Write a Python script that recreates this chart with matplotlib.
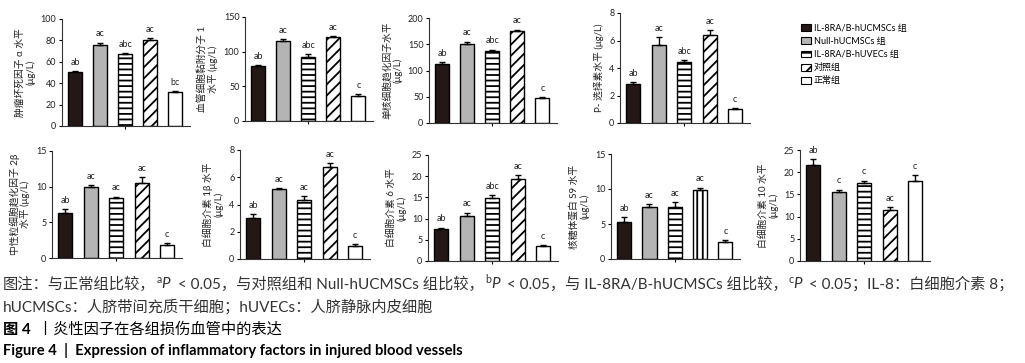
import matplotlib
matplotlib.use('Agg')
import matplotlib.pyplot as plt
from matplotlib.patches import Patch

plt.rcParams['font.family'] = ['Lato', 'Noto Sans CJK SC', 'DejaVu Sans']
plt.rcParams['mathtext.fontset'] = 'custom'
plt.rcParams['mathtext.rm'] = 'Lato'
plt.rcParams['mathtext.it'] = 'Lato:italic'
plt.rcParams['mathtext.bf'] = 'Lato:bold'
plt.rcParams['hatch.linewidth'] = 1.3
plt.rcParams['axes.unicode_minus'] = False

# groups (legend order)
groups = ['IL-8RA/B-hUCMSCs 组', 'Null-hUCMSCs 组', 'IL-8RA/B-hUVECs 组', '对照组', '正常组']
fills = ['#231815', '#b4b4b4', 'white', 'white', 'white']
hatches = [None, None, '---', '///', None]

# values (mean, upper error, significance letters)
tnf_mean = [50, 76, 67, 80, 32]
tnf_err = [1, 2, 1, 2, 1]
tnf_sig = ['ab', 'ac', 'abc', 'ac', 'bc']

vcam_mean = [79, 116, 93, 121, 36]
vcam_err = [2, 2, 3, 2, 3]
vcam_sig = ['ab', 'ac', 'abc', 'ac', 'c']

mcp_mean = [112, 151, 137, 175, 47]
mcp_err = [4, 4, 3, 3, 3]
mcp_sig = ['ab', 'ac', 'abc', 'ac', 'c']

psel_mean = [2.83, 5.7, 4.44, 6.4, 1.05]
psel_err = [0.15, 0.55, 0.15, 0.35, 0.05]
psel_sig = ['ab', 'ac', 'abc', 'ac', 'c']

cxcl_mean = [6.35, 9.9, 8.4, 10.5, 1.87]
cxcl_err = [0.5, 0.3, 0.2, 0.8, 0.2]
cxcl_sig = ['ab', 'ac', 'ac', 'ac', 'c']

il1b_mean = [3.03, 5.13, 4.33, 6.72, 0.98]
il1b_err = [0.25, 0.08, 0.3, 0.3, 0.1]
il1b_sig = ['ab', 'ac', 'ac', 'ac', 'c']

il6_mean = [7.5, 10.7, 14.9, 19.3, 3.5]
il6_err = [0.4, 0.7, 0.6, 0.9, 0.3]
il6_sig = ['ab', 'ac', 'abc', 'ac', 'c']

s9_mean = [5.33, 7.48, 7.48, 9.86, 2.48]
s9_err = [0.6, 0.35, 0.7, 0.35, 0.2]
s9_sig = ['ab', 'ac', 'ac', 'ac', 'c']

il10_mean = [21.6, 15.6, 17.6, 11.5, 18.0]
il10_err = [1.3, 0.5, 0.5, 0.6, 1.3]
il10_sig = ['ab', 'c', 'c', 'ac', 'c']

W, H = 1025, 363

# (mean, err, sig, ymax, ystep, ylabel, pixel box x0, x1, ytop, ybottom)
panels = [
    (tnf_mean, tnf_err, tnf_sig, 100, 20, '肿瘤坏死因子 α 水平\n(μg/L)', (62, 190, 19, 126)),
    (vcam_mean, vcam_err, vcam_sig, 150, 50, '血管细胞黏附分子 1\n水平 (μg/L)', (245, 373, 17, 121)),
    (mcp_mean, mcp_err, mcp_sig, 200, 50, '单核细胞趋化因子水平\n(μg/L)', (429, 557, 18, 123)),
    (psel_mean, psel_err, psel_sig, 8, 2, 'P- 选择素水平 (μg/L)', (620, 750, 13, 123)),
    (cxcl_mean, cxcl_err, cxcl_sig, 15, 5, '中性粒细胞趋化因子 2β\n水平 (μg/L)', (52, 182, 151, 258)),
    (il1b_mean, il1b_err, il1b_sig, 8, 2, '白细胞介素 1β 水平\n(μg/L)', (240, 370, 150, 259)),
    (il6_mean, il6_err, il6_sig, 25, 5, '白细胞介素 6 水平\n(μg/L)', (428, 558, 155, 261)),
    (s9_mean, s9_err, s9_sig, 15, 5, '核糖体蛋白 S9 水平\n(μg/L)', (611, 740, 154, 259)),
    (il10_mean, il10_err, il10_sig, 25, 5, '白细胞介素 10 水平\n(μg/L)', (800, 930, 150, 261)),
]

fig = plt.figure(figsize=(W / 100, H / 100), dpi=100)

for k, (mean, err, sig, ymax, ystep, ylabel, box) in enumerate(panels):
    x0, x1, yt, yb = box
    ax = fig.add_axes([x0 / W, 1 - yb / H, (x1 - x0) / W, (yb - yt) / H])
    xs = list(range(len(mean)))
    hs = list(hatches)
    if k == 7:
        hs[3] = '|||'  # this panel uses vertical stripes for the control group
    ax.bar(xs, mean, width=0.56, color=fills, edgecolor='black',
           linewidth=1.0, hatch=hs, zorder=2)
    ax.errorbar(xs, mean, yerr=[[0] * len(err), err], fmt='none',
                ecolor='black', elinewidth=1.0, capsize=2.5, capthick=1.0, zorder=3)
    for i in xs:
        ax.annotate(sig[i], (i, mean[i] + err[i]), xytext=(0, 3),
                    textcoords='offset points', ha='center', va='bottom',
                    fontsize=6.5, color='#222222')
    ax.set_xlim(-0.52, 4.58)
    ax.set_ylim(0, ymax)
    ax.set_yticks(list(range(0, ymax + 1, ystep)))
    ax.set_xticks([2])
    ax.tick_params(axis='x', length=2.5, width=0.8, labelbottom=False)
    ax.tick_params(axis='y', length=2.5, width=0.8, pad=1.5,
                   labelsize=6.5, labelcolor='#222222')
    for s in ['top', 'right']:
        ax.spines[s].set_visible(False)
    for s in ['left', 'bottom']:
        ax.spines[s].set_linewidth(0.8)
        ax.spines[s].set_color('#333333')
    ax.set_ylabel(ylabel, fontsize=7, labelpad=4, linespacing=1.1, color='#222222')

# legend
handles = [Patch(facecolor=fills[i], edgecolor='black', hatch=hatches[i], linewidth=0.8)
           for i in range(len(groups))]
fig.legend(handles, groups, loc='upper left', bbox_to_anchor=(801 / W, 1 - 24 / H),
           frameon=False, fontsize=6.5, handlelength=1.1, handleheight=0.8,
           handletextpad=0.3, labelspacing=0.45, borderpad=0, borderaxespad=0)

# caption: pieces written one after another on a common baseline
renderer = fig.canvas.get_renderer()


def write_run(pieces, x_px, base_px, size, color, gap=0.0):
    x = x_px
    for txt, weight in pieces:
        t = fig.text(x / W, 1 - base_px / H, txt, fontsize=size, va='baseline',
                     ha='left', color=color, fontweight=weight)
        x = t.get_window_extent(renderer).x1 + gap


cap1 = [
    ('图注：与正常组比较，', 'normal'),
    (r'$^{\mathrm{a}}P$', 'normal'),
    (' < 0.05，与对照组和 Null-hUCMSCs 组比较，', 'normal'),
    (r'$^{\mathrm{b}}P$', 'normal'),
    (' < 0.05，与 IL-8RA/B-hUCMSCs 组比较，', 'normal'),
    (r'$^{\mathrm{c}}P$', 'normal'),
    (' < 0.05；IL-8：白细胞介素 8；', 'normal'),
]
cap2 = [('hUCMSCs：人脐带间充质干细胞；hUVECs：人脐静脉内皮细胞', 'normal')]
cap3 = [('图 4 ', 'bold'), (' 丨炎性因子在各组损伤血管中的表达', 'normal')]
cap4 = [('Figure 4  |  Expression of inflammatory factors in injured blood vessels', 'bold')]

write_run(cap1, 3, 289, 11, '#333333', gap=1.0)
write_run(cap2, 3, 312, 11, '#333333')
write_run(cap3, 3, 334, 11, 'black')
write_run(cap4, 3, 355, 10.6, 'black')

fig.savefig('out.png', dpi=100)
